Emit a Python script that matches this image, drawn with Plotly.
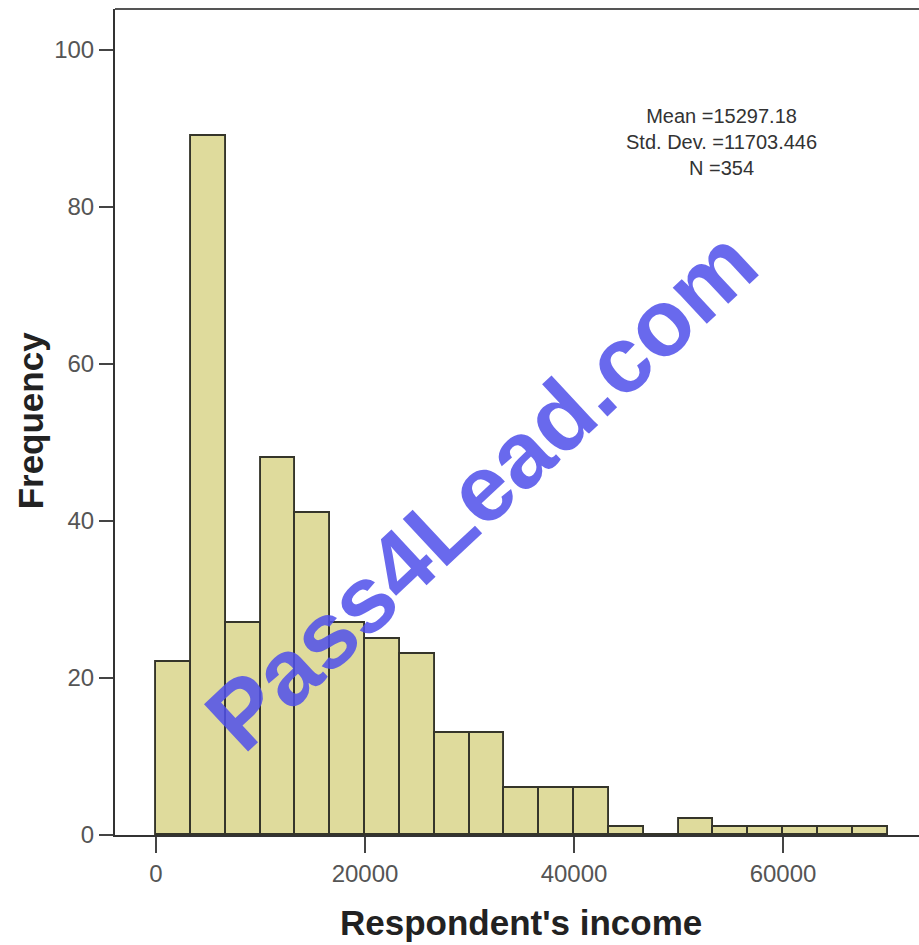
import plotly.graph_objects as go

bin_starts = [0, 3333.33, 6666.67, 10000, 13333.33, 16666.67, 20000, 23333.33, 26666.67,
              30000, 33333.33, 36666.67, 40000, 43333.33, 46666.67, 50000, 53333.33,
              56666.67, 60000, 63333.33, 66666.67]
counts = [22, 89, 27, 48, 41, 27, 25, 23, 13, 13, 6, 6, 6, 1, 0, 2, 1, 1, 1, 1, 1]
bin_width = 3333.33
x_ticks = [0, 20000, 40000, 60000]
y_ticks = [0, 20, 40, 60, 80, 100]
stats_lines = ["Mean =15297.18", "Std. Dev. =11703.446", "N =354"]
x_title = "Respondent's income"
y_title = "Frequency"
watermark = "Pass4Lead.com"

centers = [s + bin_width / 2 for s in bin_starts]

fig = go.Figure()
fig.add_trace(go.Bar(
    x=centers, y=counts, width=bin_width,
    marker=dict(color="rgb(223,219,156)", line=dict(color="#35352a", width=1.9)),
    showlegend=False,
))

font = "Liberation Sans, Arial, sans-serif"
axis_common = dict(
    showgrid=False, zeroline=False, showline=True, linecolor="#333", linewidth=2,
    ticks="outside", tickwidth=1.5, tickcolor="#444",
    tickfont=dict(size=24, color="#555", family=font),
)
fig.update_layout(
    width=919, height=945,
    margin=dict(l=115, r=0, t=9, b=110),
    paper_bgcolor="white", plot_bgcolor="white",
    bargap=0,
    font=dict(family=font),
    xaxis=dict(range=[-3923, 73014], tickvals=x_ticks, ticklen=16,
               ticktext=[str(v) for v in x_ticks], **axis_common),
    yaxis=dict(range=[0, 105.2], tickvals=y_ticks, ticklen=14, **axis_common),
)

fig.add_shape(type="line", xref="paper", yref="paper", x0=0, x1=1, y0=1, y1=1,
              line=dict(color="#555", width=2))

fig.add_annotation(xref="paper", yref="paper", x=0.754, y=0.839,
                   text="<br>".join(stats_lines), showarrow=False, align="center",
                   xanchor="center", yanchor="middle",
                   font=dict(size=20, color="#333", family=font))

fig.add_annotation(xref="paper", yref="paper", x=0.505, y=-0.1065, text="<b>" + x_title + "</b>",
                   showarrow=False, xanchor="center", yanchor="middle",
                   font=dict(size=35, color="#222", family=font))
fig.add_annotation(xref="paper", yref="paper", x=-0.1057, y=0.502, text="<b>" + y_title + "</b>",
                   showarrow=False, xanchor="center", yanchor="middle", textangle=-90,
                   font=dict(size=35, color="#222", family=font))

fig.add_annotation(xref="paper", yref="paper", x=0.456, y=0.418, text="<b>" + watermark + "</b>",
                   showarrow=False, textangle=-43, opacity=0.85,
                   font=dict(size=94, color="rgb(80,80,235)", family=font))

fig.write_html("out.html", config={"displayModeBar": False},
               post_script="document.body.style.margin='0';document.body.style.overflow='hidden';")
